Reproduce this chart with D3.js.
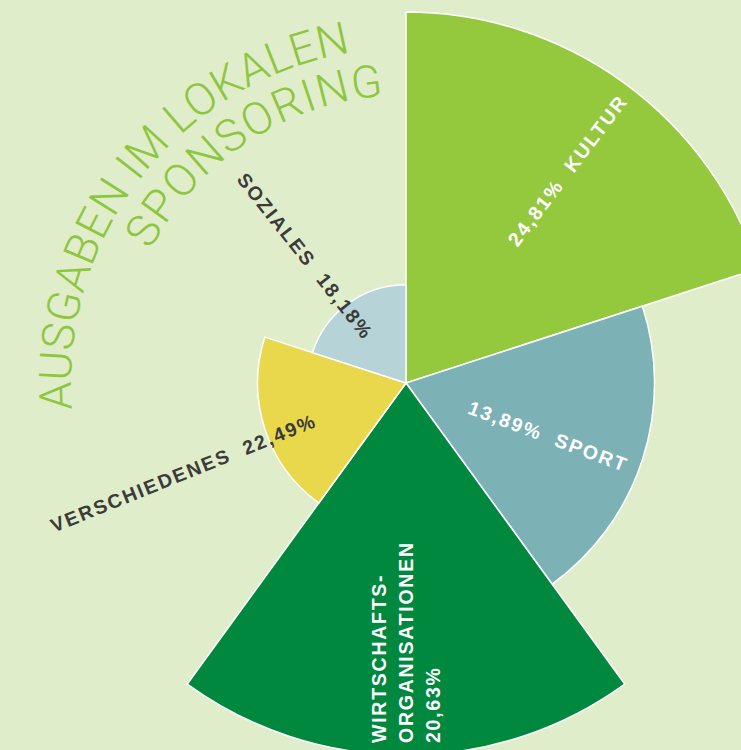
<!DOCTYPE html>
<html><head><meta charset="utf-8">
<script src="https://cdn.jsdelivr.net/npm/d3@7"></script>
<style>html,body{margin:0;padding:0;background:#e0edca;} svg{display:block}</style>
</head><body>
<svg id="chart" width="741" height="750"></svg>
<script>
// ---- data ----
const categories = ["Kultur", "Sport", "Wirtschaftsorganisationen", "Verschiedenes", "Soziales"];
const labelNames = [["KULTUR"], ["SPORT"], ["WIRTSCHAFTS-", "ORGANISATIONEN"], ["VERSCHIEDENES"], ["SOZIALES"]];
const shares = [24.81, 13.89, 20.63, 22.49, 18.18];          // printed percentages
const relativeSize = [100, 67, 100.3, 40, 26.5];             // wedge length (max = 100)
const titleLines = ["AUSGABEN IM LOKALEN", "SPONSORING"];

// ---- style / layout ----
const W = 741, H = 750, cx = 406, cy = 383, maxR = 371;
const colors = ["#94c83d", "#7cb1b6", "#00883f", "#e9d84b", "#b6d3d8"];
const bg = "#e0edca", titleColor = "#8dc63f", darkText = "#3b3b3b";
const labelStyle = [
  {shift: 1.2, r: 267, len: 182, outward: true,  color: "#fff", pctFirst: true},
  {shift: 2.5, r: 152, len: 167, outward: true,  color: "#fff", pctFirst: true},
  {vertical: true, startR: 360, lineGap: 27, len: 200, color: "#fff"},
  {shift: -4,  r: 240, len: 283, outward: false, color: darkText, pctFirst: false},
  {shift: -2.4, r: 162, len: 204, outward: false, color: darkText, pctFirst: false}
];
const titleStyle = [
  {r: 335, a0: 265.5, a1: 350.5},
  {r: 288, a0: 297.5, a1: 355.5}
];
const labelFont = "'Liberation Sans', Arial, sans-serif";
const labelSize = 19.5;

const de = d3.formatLocale({decimal: ",", thousands: ".", grouping: [3], currency: ["", "€"]});
const fmt = de.format(".2f");

const svg = d3.select("#chart");
svg.append("rect").attr("width", W).attr("height", H).attr("fill", bg);

const angle = d3.scaleBand().domain(categories).range([0, 2 * Math.PI]).padding(0);
const rScale = d3.scaleLinear().domain([0, 100]).range([0, maxR]);

const data = categories.map((c, i) => ({cat: c, share: shares[i], size: relativeSize[i], names: labelNames[i], color: colors[i], st: labelStyle[i]}));

const arc = d3.arc()
  .innerRadius(0)
  .outerRadius(d => rScale(d.size))
  .startAngle(d => angle(d.cat))
  .endAngle(d => angle(d.cat) + angle.bandwidth());

const g = svg.append("g").attr("transform", `translate(${cx},${cy})`);
g.selectAll("path.slice").data(data).join("path")
  .attr("class", "slice")
  .attr("d", arc)
  .attr("fill", d => d.color)
  .attr("stroke", "#ffffff")
  .attr("stroke-width", 1.5)
  .attr("stroke-linejoin", "round");

const rad = a => a * Math.PI / 180;
const pt = (aDeg, r) => [r * Math.sin(rad(aDeg)), -r * Math.cos(rad(aDeg))];

function fit(sel, target) {
  const node = sel.node();
  const n = node.textContent.length;
  const nat = node.getComputedTextLength();
  const ls = (target - nat) / (n - 1);
  sel.style("letter-spacing", ls + "px");
  return ls;
}

// ---- labels ----
data.forEach(d => {
  const st = d.st;
  const pct = fmt(d.share) + "%";
  if (st.vertical) {
    const lg = g.append("g").attr("transform", "rotate(-90)");
    const lines = d.names.concat([pct]);
    const texts = lines.map((t, i) => lg.append("text")
      .attr("x", -st.startR).attr("y", (i - 1) * st.lineGap).attr("dy", "0.36em")
      .attr("text-anchor", "start")
      .attr("font-family", labelFont).attr("font-weight", 700).attr("font-size", labelSize)
      .attr("fill", st.color).text(t));
    const ls = fit(texts[1], st.len);
    texts.forEach(t => t.style("letter-spacing", ls + "px"));
    return;
  }
  const mid = (angle(d.cat) + angle.bandwidth() / 2) * 180 / Math.PI + st.shift;
  const [x, y] = pt(mid, st.r);
  const rot = st.outward ? mid - 90 : mid - 270;
  const txt = st.pctFirst ? `${pct}  ${d.names[0]}` : `${d.names[0]}  ${pct}`;
  const t = g.append("text")
    .attr("transform", `translate(${x},${y}) rotate(${rot})`)
    .attr("text-anchor", "middle").attr("dy", "0.36em")
    .attr("font-family", labelFont).attr("font-weight", 700).attr("font-size", labelSize)
    .attr("fill", st.color)
    .style("white-space", "pre")
    .text(txt);
  fit(t, st.len);
});

// ---- curved title ----
const defs = svg.append("defs");
titleLines.forEach((line, i) => {
  const ts = titleStyle[i];
  const a0 = ts.a0, aEnd = ts.a0 + 170;
  const [x0, y0] = pt(a0, ts.r), [x1, y1] = pt(aEnd, ts.r);
  const id = "titlePath" + i;
  defs.append("path").attr("id", id)
    .attr("d", `M${x0},${y0} A${ts.r},${ts.r} 0 0 1 ${x1},${y1}`)
    .attr("transform", `translate(${cx},${cy})`);
  const t = svg.append("text")
    .attr("font-family", "Roboto, 'Open Sans', sans-serif").attr("font-weight", 300)
    .attr("font-size", 45).attr("fill", titleColor);
  t.append("textPath").attr("href", "#" + id).attr("startOffset", 0).text(line);
  const target = ts.r * rad(ts.a1 - ts.a0);
  const nat = t.node().getComputedTextLength();
  t.style("letter-spacing", ((target - nat) / (line.length - 1)) + "px");
});
</script>
</body></html>
